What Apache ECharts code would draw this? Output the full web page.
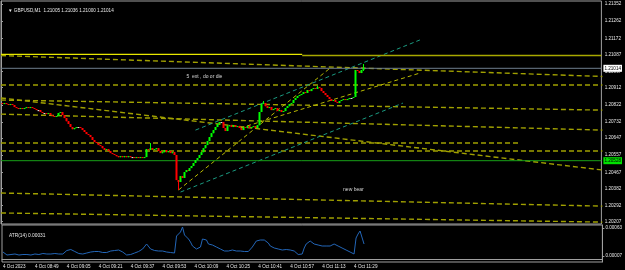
<!DOCTYPE html>
<html>
<head>
<meta charset="utf-8">
<script src="https://cdn.jsdelivr.net/npm/echarts@6/dist/echarts.min.js"></script>
<style>
  html, body { margin: 0; padding: 0; background: #000; }
  #chart { width: 625px; height: 270px; }
</style>
</head>
<body>
<div id="chart"></div>
<script>
// GBPUSD M1, 4 Oct 2023 from 08:33, one close per minute
const firstOpen = 1.20831;
const closes = [
  1.20826,1.20831,1.20826,1.20821,1.20826,1.20821,1.20810,1.20805,1.20800,1.20805,
  1.20800,1.20805,1.20810,1.20805,1.20810,1.20805,1.20800,1.20794,1.20794,1.20784,
  1.20779,1.20779,1.20773,1.20779,1.20768,1.20763,1.20758,1.20763,1.20779,1.20784,
  1.20768,1.20752,1.20736,1.20721,1.20705,1.20694,1.20700,1.20705,1.20705,1.20700,
  1.20689,1.20679,1.20668,1.20663,1.20652,1.20637,1.20626,1.20621,1.20610,1.20605,
  1.20594,1.20584,1.20589,1.20579,1.20568,1.20563,1.20558,1.20552,1.20547,1.20552,
  1.20547,1.20552,1.20547,1.20552,1.20547,1.20547,1.20542,1.20547,1.20542,1.20547,
  1.20542,1.20547,1.20589,1.20584,1.20594,1.20584,1.20589,1.20594,1.20579,1.20568,
  1.20573,1.20584,1.20573,1.20579,1.20568,1.20573,1.20558,1.20426,1.20416,1.20447,
  1.20437,1.20468,1.20479,1.20474,1.20489,1.20500,1.20516,1.20531,1.20542,1.20558,
  1.20573,1.20594,1.20610,1.20631,1.20652,1.20673,1.20689,1.20705,1.20721,1.20731,
  1.20731,1.20700,1.20684,1.20710,1.20715,1.20705,1.20715,1.20705,1.20710,1.20700,
  1.20689,1.20705,1.20700,1.20710,1.20700,1.20705,1.20710,1.20700,1.20715,1.20784,
  1.20826,1.20831,1.20815,1.20805,1.20810,1.20794,1.20800,1.20805,1.20789,1.20794,
  1.20784,1.20789,1.20805,1.20815,1.20826,1.20831,1.20847,1.20858,1.20868,1.20873,
  1.20879,1.20889,1.20884,1.20900,1.20894,1.20905,1.20910,1.20905,1.20915,1.20910,
  1.20894,1.20884,1.20873,1.20863,1.20852,1.20842,1.20847,1.20837,1.20831,1.20842,
  1.20847,1.20852,1.20847,1.20852,1.20858,1.20858,1.20863,1.21005,1.21000,1.20989,
  1.21005,1.21014
];
// bars with a visible wick beyond the body
const wickHigh = { 74: 1.20621, 131: 1.20842, 158: 1.20921, 181: 1.21036 };
const wickLow = { 88: 1.20374, 181: 1.21000 };

const atr = [
  0.00015,0.00011,0.00009,0.00010,0.00010,0.00010,0.00011,0.00010,0.00009,0.00010,
  0.00010,0.00011,0.00010,0.00009,0.00009,0.00010,0.00011,0.00011,0.00010,0.00011,
  0.00012,0.00011,0.00011,0.00012,0.00011,0.00011,0.00012,0.00012,0.00011,0.00010,
  0.00011,0.00014,0.00018,0.00021,0.00020,0.00017,0.00016,0.00013,0.00012,0.00011,
  0.00011,0.00012,0.00013,0.00014,0.00015,0.00015,0.00016,0.00017,0.00016,0.00015,
  0.00014,0.00015,0.00014,0.00015,0.00017,0.00019,0.00018,0.00017,0.00019,0.00018,
  0.00015,0.00012,0.00009,0.00008,0.00010,0.00011,0.00013,0.00014,0.00016,0.00017,
  0.00021,0.00025,0.00031,0.00027,0.00021,0.00019,0.00018,0.00018,0.00017,0.00016,
  0.00017,0.00016,0.00015,0.00015,0.00014,0.00014,0.00013,0.00047,0.00051,0.00055,
  0.00065,0.00049,0.00045,0.00041,0.00035,0.00027,0.00023,0.00021,0.00020,0.00025,
  0.00041,0.00045,0.00039,0.00031,0.00029,0.00029,0.00027,0.00025,0.00023,0.00021,
  0.00019,0.00017,0.00016,0.00017,0.00019,0.00019,0.00018,0.00017,0.00018,0.00017,
  0.00016,0.00016,0.00015,0.00016,0.00019,0.00025,0.00031,0.00037,0.00039,0.00039,
  0.00038,0.00039,0.00037,0.00033,0.00027,0.00024,0.00023,0.00021,0.00021,0.00020,
  0.00019,0.00019,0.00020,0.00019,0.00019,0.00020,0.00017,0.00013,0.00010,0.00009,
  0.00011,0.00023,0.00031,0.00035,0.00037,0.00035,0.00031,0.00029,0.00029,0.00029,
  0.00027,0.00029,0.00027,0.00025,0.00027,0.00029,0.00031,0.00029,0.00027,0.00025,
  0.00023,0.00021,0.00019,0.00017,0.00015,0.00013,0.00011,0.00043,0.00051,0.00057,
  0.00061,0.00031
];

const tickLabels = ["4 Oct 2023","4 Oct 08:49","4 Oct 09:05","4 Oct 09:21","4 Oct 09:37","4 Oct 09:53",
  "4 Oct 10:09","4 Oct 10:25","4 Oct 10:41","4 Oct 10:57","4 Oct 11:13","4 Oct 11:29"];
const priceTicks = [1.21352,1.21262,1.21172,1.21087,1.20997,1.20912,1.20822,1.20732,1.20647,1.20557,1.20467,1.20382,1.20292,1.20207];
const atrTicks = [0.00063, 0.00007];

const bidPrice = 1.21014;
const greenLevel = 1.20528;

// drawn objects, anchored as [bar slot, price]
const solidLevelLeft = [[0, 1.21087], [151, 1.21087]];
const solidLevelRight = [[151, 1.21081], [301, 1.21081]];
const dashedLevels = [
  [[0, 1.21081], [301.5, 1.20971]],
  [[0, 1.20926], [301.5, 1.20926]],
  [[0, 1.20847], [301.5, 1.20794]],
  [[0, 1.20858], [301.5, 1.20479]],
  [[0, 1.20773], [301.5, 1.20689]],
  [[0, 1.20621], [260, 1.20621]],
  [[0, 1.20579], [301.5, 1.20579]],
  [[0, 1.20358], [301.5, 1.20289]],
  [[0, 1.20253], [301.5, 1.20205]]
];
const yellowTrends = [
  [[89, 1.20374], [165, 1.21015]],
  [[120, 1.20700], [210, 1.20989]]
];
const tealTrends = [
  [[97.5, 1.20689], [210, 1.21163]],
  [[90, 1.20363], [201.5, 1.20831]]
];
const notes = [
  { name: "5  ext , do or die", value: [93, 1.20968] },
  { name: "new bear", value: [171.5, 1.20374] }
];

const slotCount = 301;
const cats = [];
for (let i = 0; i < slotCount; i++) cats.push(i);

// [slot, open, close, low, high]
const ohlc = closes.map((c, i) => {
  const o = i === 0 ? firstOpen : closes[i - 1];
  let hi = Math.max(o, c), lo = Math.min(o, c);
  if (wickHigh[i] !== undefined) hi = wickHigh[i];
  if (wickLow[i] !== undefined) lo = wickLow[i];
  return [i, o, c, lo, hi];
});

const FONT = "Liberation Sans";
const txt = "#e8e8e8";

function seg(data, color, type, width) {
  return {
    type: "line", xAxisIndex: 1, yAxisIndex: 0, data: data, z: 1,
    showSymbol: false, silent: true, animation: false,
    lineStyle: { color: color, type: type, width: width }
  };
}

function renderCandle(params, api) {
  const i = api.value(0);
  const o = api.value(1), c = api.value(2), lo = api.value(3), hi = api.value(4);
  const pO = api.coord([i, o]), pC = api.coord([i, c]);
  const pL = api.coord([i, lo]), pH = api.coord([i, hi]);
  const x = Math.round(pO[0]);
  const color = c > o ? "#00ff00" : (c < o ? "#ff0000" : "#d8d8d8");
  const top = Math.min(pO[1], pC[1]);
  const h = Math.max(Math.abs(pO[1] - pC[1]), 1);
  return {
    type: "group",
    children: [
      { type: "rect", shape: { x: x, y: Math.min(pH[1], top), width: 1, height: Math.max(pL[1], top + h) - Math.min(pH[1], top) },
        style: { fill: color, stroke: null } },
      { type: "rect", shape: { x: x - 0.5, y: top, width: 2, height: h }, style: { fill: color, stroke: null } }
    ]
  };
}

const series = [];
dashedLevels.forEach(d => series.push(seg(d, "#a0a000", [5, 3], 1.4)));
yellowTrends.forEach(d => series.push(seg(d, "#b8b800", [4, 3], 1)));
tealTrends.forEach(d => series.push(seg(d, "#1a9a80", [4, 3], 1)));
series.push(seg([[0, bidPrice], [slotCount, bidPrice]], "#6f7f8f", "solid", 1));
series.push(seg([[0, greenLevel], [slotCount, greenLevel]], "#18a018", "solid", 1));
series.push(seg(solidLevelLeft, "#e8e800", "solid", 1.2));
series.push(seg(solidLevelRight, "#a8a800", "solid", 1.6));

series.push({
  type: "custom", xAxisIndex: 0, yAxisIndex: 0, data: ohlc, z: 5,
  encode: { x: 0, y: [1, 2, 3, 4] },
  renderItem: renderCandle, silent: true, animation: false
});

series.push({
  type: "scatter", xAxisIndex: 1, yAxisIndex: 0, data: notes, symbolSize: 0, silent: true,
  label: { show: true, position: "right", distance: 0, formatter: p => p.name, color: "#ffffff", fontSize: 5, fontFamily: FONT }
});

series.push({
  type: "line", xAxisIndex: 2, yAxisIndex: 1, data: atr, showSymbol: false, silent: true,
  animation: false, lineStyle: { color: "#2366b8", width: 1 }
});

const priceLabels = priceTicks.concat([greenLevel, bidPrice]);

const chart = echarts.init(document.getElementById("chart"), null, { renderer: "canvas" });
chart.setOption({
  backgroundColor: "#000",
  animation: false,
  title: [
    { text: "\u25BC GBPUSD,M1  1.21005 1.21036 1.21000 1.21014", left: 3, top: 3,
      textStyle: { color: txt, fontSize: 4.6, fontWeight: "normal", fontFamily: FONT } },
    { text: "ATR(14) 0.00031", left: 4, top: 228,
      textStyle: { color: txt, fontSize: 4.8, fontWeight: "normal", fontFamily: FONT } }
  ],
  grid: [
    { left: 1, right: 22, top: 1, height: 223, show: true, borderColor: "#a0a0a0", borderWidth: 1, backgroundColor: "#000" },
    { left: 1, right: 22, top: 225, height: 37, show: true, borderColor: "#a0a0a0", borderWidth: 1, backgroundColor: "#000" }
  ],
  xAxis: [
    { type: "category", gridIndex: 0, data: cats, boundaryGap: true, show: false },
    { type: "value", gridIndex: 0, min: 0, max: slotCount, show: false },
    { type: "category", gridIndex: 1, data: cats, boundaryGap: true,
      axisLine: { lineStyle: { color: "#a0a0a0" } },
      axisTick: { alignWithLabel: true, length: 2, lineStyle: { color: "#a0a0a0" },
        interval: i => i % 16 === 0 && i / 16 < tickLabels.length },
      axisLabel: { color: txt, fontSize: 4.6, fontFamily: FONT, align: "left", margin: 2,
        interval: i => i % 16 === 0 && i / 16 < tickLabels.length,
        formatter: (v, i) => tickLabels[i / 16] || "" },
      splitLine: { show: false } }
  ],
  yAxis: [
    { type: "value", gridIndex: 0, position: "right", min: 1.20195, max: 1.21368,
      axisLine: { show: true, lineStyle: { color: "#a0a0a0" } },
      axisTick: { show: true, length: 2, customValues: priceTicks, lineStyle: { color: "#a0a0a0" } },
      axisLabel: { color: txt, fontSize: 4.6, fontFamily: FONT, margin: 2, customValues: priceLabels,
        formatter: v => {
          const s = v.toFixed(5);
          if (Math.abs(v - bidPrice) < 1e-7) return "{bid|" + s + "}";
          if (Math.abs(v - greenLevel) < 1e-7) return "{lvl|" + s + "}";
          return " " + s;
        },
        rich: {
          bid: { backgroundColor: "#ffffff", color: "#000", fontSize: 4.6, fontFamily: FONT, padding: [1, 1, 1, 1] },
          lvl: { backgroundColor: "#00e000", color: "#000", fontSize: 4.6, fontFamily: FONT, padding: [1, 1, 1, 1] }
        } },
      splitLine: { show: false } },
    { type: "value", gridIndex: 1, position: "right", min: -0.00005, max: 0.00069,
      axisLine: { show: true, lineStyle: { color: "#a0a0a0" } },
      axisTick: { show: true, length: 2, customValues: atrTicks, lineStyle: { color: "#a0a0a0" } },
      axisLabel: { color: txt, fontSize: 4.6, fontFamily: FONT, margin: 3, customValues: atrTicks,
        formatter: v => v.toFixed(5) },
      splitLine: { show: false } }
  ],
  series: series
});
</script>
</body>
</html>
